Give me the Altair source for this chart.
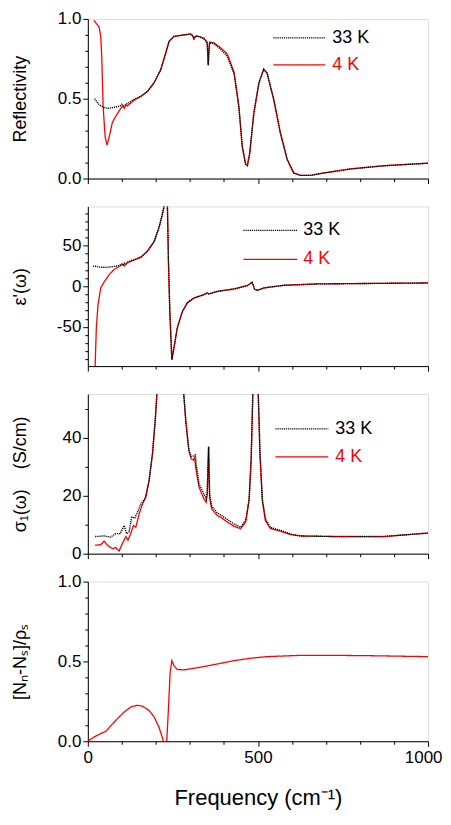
import altair as alt
import pandas as pd

# ---------------- data ----------------
# Panel 1: Reflectivity
r4_f = [18, 33, 38, 41, 45, 51, 56, 63, 72, 82, 97, 103, 107, 112, 116, 125, 136, 156, 175, 195, 214, 229, 239, 253,
        283, 302, 308, 312, 316, 322, 341, 349, 351, 354, 356, 358, 371, 390, 410, 430, 444, 454, 464, 469, 476,
        488, 503, 517, 527, 547, 566, 586, 605, 625, 655, 694, 772, 870, 1000]
r4_v = [0.99, 0.95, 0.89, 0.76, 0.45, 0.26, 0.21, 0.26, 0.35, 0.39, 0.44, 0.455, 0.44, 0.46, 0.455, 0.47, 0.49,
        0.515, 0.545, 0.60, 0.68, 0.785, 0.86, 0.89, 0.90, 0.905, 0.895, 0.875, 0.89, 0.893, 0.88, 0.86, 0.85,
        0.71, 0.80, 0.855, 0.85, 0.82, 0.78, 0.665, 0.45, 0.20, 0.088, 0.081, 0.16, 0.41, 0.60, 0.685, 0.66,
        0.49, 0.285, 0.12, 0.035, 0.02, 0.02, 0.035, 0.06, 0.08, 0.096]
r33_f = [20, 30, 38, 48, 58, 70, 82, 95, 100, 104, 110, 116, 122, 131, 140, 156, 175, 195, 214, 229, 239, 253,
         283, 302, 308, 312, 316, 322, 341, 349, 351, 354, 356, 358, 371, 390, 410, 430, 444, 454, 464, 469, 476,
         488, 503, 517, 527, 547, 566, 586, 605, 625, 655, 694, 772, 870, 1000]
r33_v = [0.50, 0.47, 0.456, 0.445, 0.44, 0.442, 0.448, 0.455, 0.465, 0.455, 0.462, 0.47, 0.475, 0.49, 0.50,
         0.515, 0.545, 0.60, 0.68, 0.785, 0.86, 0.89, 0.90, 0.905, 0.895, 0.875, 0.89, 0.893, 0.875, 0.855, 0.845,
         0.71, 0.80, 0.85, 0.845, 0.81, 0.765, 0.655, 0.45, 0.20, 0.088, 0.081, 0.16, 0.41, 0.60, 0.685, 0.66,
         0.49, 0.285, 0.12, 0.035, 0.02, 0.02, 0.035, 0.06, 0.08, 0.096]

# Panel 2: eps'(w)
e4_f = [18, 21.5, 25, 30, 38, 48, 63, 77, 97, 104, 108, 113, 116, 136, 156, 175, 195, 209, 219, 224, 228, 231,
        234, 237, 241, 247, 253, 263, 278, 292, 312, 341, 351, 356, 381, 430, 469, 483, 490, 498, 518, 576, 674, 1000]
e4_v = [-150, -98, -51, -22.5, -2, 5.3, 14.3, 20.5, 25.4, 27, 25, 28, 28.7, 32.4, 35.7, 43, 55, 71.8, 88, 98,
        140, 140, 98, 30.8, -31, -90, -76, -51, -31, -20.5, -14.4, -10.3, -8.2, -9.4, -6.2, -3.3, 0.8, 4.9,
        -3.3, -5, -2, 1.2, 2.9, 4.1]
e33_f = [15, 23, 33, 43, 55, 67, 80, 92, 100, 104, 108, 113, 118, 126, 136, 156, 175, 195, 209, 219, 224, 228, 231,
         234, 237, 241, 247, 253, 263, 278, 292, 312, 341, 351, 356, 381, 430, 469, 483, 490, 498, 518, 576, 674, 1000]
e33_v = [24.8, 24.6, 23.5, 23.4, 23.2, 23.8, 24.5, 25.4, 27.5, 26, 28.5, 27.5, 30, 31.6, 32.4, 35.7, 43, 55, 71.8,
         88, 98, 140, 140, 98, 30.8, -31, -90, -76, -51, -31, -20.5, -14.4, -10.3, -8.2, -9.4, -6.2, -3.3, 0.8,
         4.9, -3.3, -5, -2, 1.2, 2.9, 4.1]

# Panel 3: sigma_1(w)
s4_f = [21.5, 38, 48, 58, 72, 82, 92, 97, 105, 112, 118, 126, 134, 141, 151, 160, 170, 180, 190, 198, 203, 215,
        270, 282, 288, 297, 304, 310, 314, 317, 327, 341, 348, 351, 355, 358, 364, 381, 390, 410, 430, 449, 464,
        474, 480, 485, 493, 501, 506, 513, 522, 537, 567, 596, 625, 723, 870, 1000]
s4_v = [2.9, 3.1, 4.3, 2.9, 1.7, 2.1, 0.9, 2.3, 4.3, 5.9, 4.6, 6.9, 9.7, 9.1, 13.7, 16.9, 19.4, 25.1, 34.3, 45.7,
        55, 80, 80, 55, 45.7, 35.4, 32.6, 32.2, 33.1, 29.7, 22.9, 18.9, 17.7, 20.6, 36.8, 19.4, 15.4, 13.1, 12.6,
        10.9, 9.4, 8.6, 10.9, 18.3, 32, 55, 90, 55, 34.3, 18.3, 11.4, 8.6, 7.7, 6.6, 6.1, 5.9, 5.9, 7.1]
s33_f = [21.5, 48, 67, 82, 95, 107, 114, 121, 129, 138, 146, 156, 165, 170, 180, 190, 198, 203, 215,
         270, 282, 288, 297, 304, 312, 316, 319, 327, 341, 348, 351, 355, 358, 364, 381, 390, 410, 430, 449, 464,
         474, 480, 485, 493, 501, 506, 513, 522, 537, 567, 596, 625, 723, 870, 1000]
s33_v = [5.9, 6.1, 5.7, 6.9, 6.9, 9.7, 6.9, 7.4, 12.6, 12.3, 14.3, 17.1, 18.5, 19.4, 25.1, 34.3, 45.7, 55, 80,
         80, 55, 45.7, 35.8, 33.5, 33.7, 34, 30.5, 24, 20.6, 18.9, 21, 36.8, 20.5, 16.4, 14, 13.4, 11.8, 10.2,
         9.1, 11.4, 18.8, 32.5, 55, 90, 55, 34.8, 18.8, 12, 9, 8, 6.7, 6.1, 5.9, 5.9, 7.1]

# Panel 4: [Nn-Ns]/rho_s
n_f = [0, 19, 38, 53, 67, 87, 107, 126, 146, 160, 180, 195, 209, 217, 222, 225, 230, 232, 237, 242, 247, 253,
       263, 283, 332, 381, 430, 479, 527, 625, 723, 821, 1000]
n_v = [0, 0.027, 0.048, 0.062, 0.096, 0.141, 0.183, 0.214, 0.225, 0.22, 0.193, 0.152, 0.089, 0.037, 0.0, -0.1,
       -0.1, 0.0, 0.204, 0.43, 0.505, 0.474, 0.449, 0.447, 0.464, 0.484, 0.505, 0.52, 0.53, 0.538, 0.538, 0.536, 0.53]

legend_labels = ["33 K", "4 K"]
RED = "#ff0000"
BLACK = "#000000"
FONT = "Liberation Sans"

W, H = 341, 160
x_ticks = list(range(0, 1001, 100))
x_major = "datum.value % 500 == 0"


def xaxis(bottom):
    tick_size = alt.condition(x_major, alt.value(5), alt.value(3))
    if bottom:
        return alt.Axis(values=x_ticks, labelExpr=x_major + " ? '' + datum.value : ''",
                        title="Frequency (cm⁻¹)", titleFontSize=22, titleFontWeight="normal",
                        titlePadding=22, labelFontSize=17, labelPadding=3, grid=False,
                        tickSize=tick_size, domainColor="black", tickColor="black", labelColor="black",
                        titleColor="black", labelFlush=False,
                        labelAlign=alt.condition("datum.value == 1000", alt.value("right"), alt.value("center")),
                        labelOffset=alt.condition("datum.value == 1000", alt.value(14), alt.value(0)))
    return alt.Axis(values=x_ticks, labels=False, title=None, grid=False, tickSize=tick_size,
                    domainColor="black", tickColor="black")


def yaxis(title, values, major_test, label_expr):
    return alt.Axis(values=values, labelExpr=major_test + " ? " + label_expr + " : ''", title=title,
                    titleFontSize=18, titleFontWeight="normal", titleX=-67, titleBaseline="middle",
                    titleColor="black", labelFontSize=17, labelPadding=2, grid=False,
                    tickSize=alt.condition(major_test, alt.value(5), alt.value(3)),
                    domainColor="black", tickColor="black", labelColor="black", labelFlush=False)


def line(f, v, color, dashed, xa, ya, ydom):
    df = pd.DataFrame({"f": f, "v": v})
    mk = alt.Chart(df).mark_line(color=color, strokeWidth=1.3 if not dashed else 1.4, clip=True,
                                 strokeDash=[1.2, 0.9] if dashed else [1, 0], interpolate="linear")
    return mk.encode(
        x=alt.X("f:Q", scale=alt.Scale(domain=[0, 1000], nice=False, zero=False), axis=xa),
        y=alt.Y("v:Q", scale=alt.Scale(domain=ydom, nice=False, zero=False), axis=ya),
    )


def legend(x0, x1, xt, ys):
    layers = []
    for lab, yy, col, dashed in zip(legend_labels, ys, [BLACK, RED], [True, False]):
        d = pd.DataFrame({"label": [lab]})
        layers.append(alt.Chart(d).mark_rule(color=col, strokeWidth=1.3,
                                             strokeDash=[1.2, 0.9] if dashed else [1, 0]).encode(
            x=alt.value(x0), x2=alt.value(x1), y=alt.value(yy)))
        layers.append(alt.Chart(d).mark_text(align="left", baseline="middle", fontSize=18, font=FONT,
                                             color=col).encode(
            x=alt.value(xt), y=alt.value(yy), text="label:N"))
    return layers


p1_ticks = [round(i * 0.1, 1) for i in range(11)]
half_test = "abs(datum.value * 10 % 5) < 0.01"
half_fmt = "format(datum.value, '.1f')"

ax1 = yaxis("Reflectivity", p1_ticks, half_test, half_fmt)
p1 = alt.layer(
    line(r4_f, r4_v, RED, False, xaxis(False), ax1, [0, 1]),
    line(r33_f, r33_v, BLACK, True, xaxis(False), ax1, [0, 1]),
    *legend(186, 238, 245, [19, 46]),
).properties(width=W, height=H)

p2_ticks = list(range(-90, 91, 10))
ax2 = yaxis("ε'(ω)", p2_ticks, "datum.value % 50 == 0", "'' + datum.value")
p2 = alt.layer(
    line(e4_f, e4_v, RED, False, xaxis(False), ax2, [-98, 98]),
    line(e33_f, e33_v, BLACK, True, xaxis(False), ax2, [-98, 98]),
    *legend(156, 210, 216, [24, 53]),
).properties(width=W, height=H)

p3_ticks = list(range(0, 51, 10))
s_title = "σ₁(ω)\u00a0\u00a0\u00a0\u00a0(S/cm)"
ax3 = yaxis(s_title, p3_ticks, "datum.value % 20 == 0", "'' + datum.value")
p3 = alt.layer(
    line(s4_f, s4_v, RED, False, xaxis(False), ax3, [0, 55]),
    line(s33_f, s33_v, BLACK, True, xaxis(False), ax3, [0, 55]),
    *legend(188, 241, 248, [35, 63]),
).properties(width=W, height=H)

ax4 = yaxis("[Nₙ-Nₛ]/ρₛ", p1_ticks, half_test, half_fmt)
p4 = alt.layer(
    line(n_f, n_v, RED, False, xaxis(True), ax4, [0, 1]),
).properties(width=W, height=H)

chart = alt.vconcat(p1, p2, p3, p4, spacing=28, bounds="flush").properties(
    padding={"left": 3, "top": 0, "right": 0, "bottom": 0}
).configure_view(stroke="#555555", strokeWidth=1.5).configure(font=FONT)

chart.save("out.html", embed_options={"renderer": "svg", "actions": False})
